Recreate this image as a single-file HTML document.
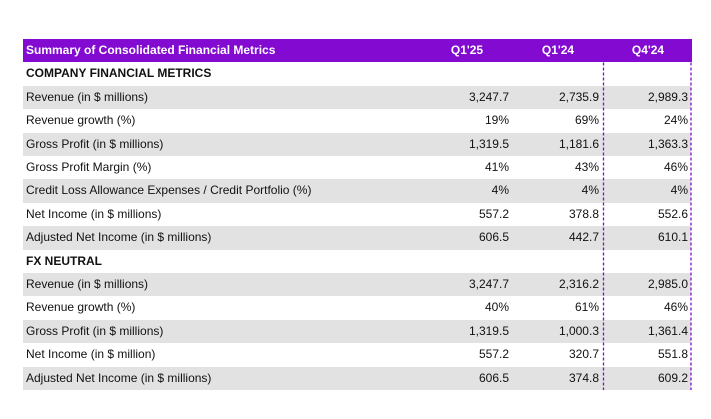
<!DOCTYPE html>
<html>
<head>
<meta charset="utf-8">
<style>
html,body{margin:0;padding:0;background:#fff;}
body{width:711px;height:419px;position:relative;overflow:hidden;font-family:"Liberation Sans",Arial,sans-serif;font-size:12px;color:#111;}
.row{position:absolute;left:23px;width:668px;height:23.4px;}
.g{background:#e2e2e2;}
.hd{background:#820ad1;width:669px;color:#fff;font-weight:bold;}
.c{position:absolute;top:0;height:23.4px;line-height:23.4px;white-space:nowrap;}
.lab{left:3px;}
.v1{right:182px;text-align:right;}
.v2{right:92px;text-align:right;}
.v3{right:3px;text-align:right;}
.h1{left:404px;width:80px;text-align:center;}
.h2{left:495px;width:80px;text-align:center;}
.h3{left:585px;width:80px;text-align:center;}
.b{font-weight:bold;}
svg{position:absolute;left:0;top:0;}
</style>
</head>
<body>
<div class="row hd" style="top:39px;">
  <div class="c lab">Summary of Consolidated Financial Metrics</div>
  <div class="c h1">Q1'25</div>
  <div class="c h2">Q1'24</div>
  <div class="c h3">Q4'24</div>
</div>
<div class="row" style="top:62.4px;"><div class="c lab b">COMPANY FINANCIAL METRICS</div></div>
<div class="row g" style="top:85.8px;"><div class="c lab">Revenue (in $ millions)</div><div class="c v1">3,247.7</div><div class="c v2">2,735.9</div><div class="c v3">2,989.3</div></div>
<div class="row" style="top:109.2px;"><div class="c lab">Revenue growth (%)</div><div class="c v1">19%</div><div class="c v2">69%</div><div class="c v3">24%</div></div>
<div class="row g" style="top:132.6px;"><div class="c lab">Gross Profit (in $ millions)</div><div class="c v1">1,319.5</div><div class="c v2">1,181.6</div><div class="c v3">1,363.3</div></div>
<div class="row" style="top:156px;"><div class="c lab">Gross Profit Margin (%)</div><div class="c v1">41%</div><div class="c v2">43%</div><div class="c v3">46%</div></div>
<div class="row g" style="top:179.4px;"><div class="c lab">Credit Loss Allowance Expenses / Credit Portfolio (%)</div><div class="c v1">4%</div><div class="c v2">4%</div><div class="c v3">4%</div></div>
<div class="row" style="top:202.8px;"><div class="c lab">Net Income (in $ millions)</div><div class="c v1">557.2</div><div class="c v2">378.8</div><div class="c v3">552.6</div></div>
<div class="row g" style="top:226.2px;"><div class="c lab">Adjusted Net Income (in $ millions)</div><div class="c v1">606.5</div><div class="c v2">442.7</div><div class="c v3">610.1</div></div>
<div class="row" style="top:249.6px;"><div class="c lab b">FX NEUTRAL</div></div>
<div class="row g" style="top:273px;"><div class="c lab">Revenue (in $ millions)</div><div class="c v1">3,247.7</div><div class="c v2">2,316.2</div><div class="c v3">2,985.0</div></div>
<div class="row" style="top:296.4px;"><div class="c lab">Revenue growth (%)</div><div class="c v1">40%</div><div class="c v2">61%</div><div class="c v3">46%</div></div>
<div class="row g" style="top:319.8px;"><div class="c lab">Gross Profit (in $ millions)</div><div class="c v1">1,319.5</div><div class="c v2">1,000.3</div><div class="c v3">1,361.4</div></div>
<div class="row" style="top:343.2px;"><div class="c lab">Net Income (in $ million)</div><div class="c v1">557.2</div><div class="c v2">320.7</div><div class="c v3">551.8</div></div>
<div class="row g" style="top:366.6px;"><div class="c lab">Adjusted Net Income (in $ millions)</div><div class="c v1">606.5</div><div class="c v2">374.8</div><div class="c v3">609.2</div></div>
<svg width="711" height="419">
  <line x1="603.5" y1="62.5" x2="603.5" y2="390" stroke="#820ad1" stroke-width="1.3" stroke-dasharray="3 2"/>
  <line x1="691" y1="62.5" x2="691" y2="390" stroke="#820ad1" stroke-width="1.3" stroke-dasharray="3 2"/>
</svg>
</body>
</html>
